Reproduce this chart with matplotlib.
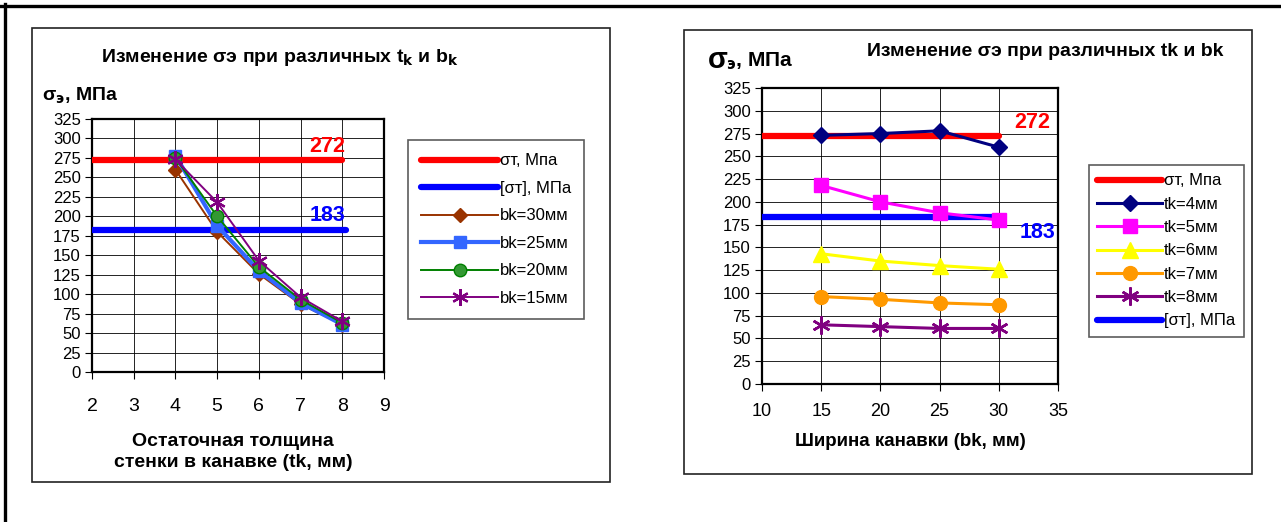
import numpy as np
import matplotlib.pyplot as plt
from matplotlib.patches import Rectangle
from matplotlib.lines import Line2D

plt.rcParams['font.family'] = ['Liberation Sans', 'DejaVu Sans']

# Данные
tk = [4, 5, 6, 7, 8]              # остаточная толщина стенки, мм
bk = [15, 20, 25, 30]             # ширина канавки, мм
sigma_t = 272                     # предел текучести, МПа
sigma_dop = 183                   # допускаемое напряжение, МПа

# σэ при разных tk (строки) и bk (столбцы 15, 20, 25, 30)
s_tk4 = [273, 275, 278, 260]
s_tk5 = [218, 200, 188, 180]
s_tk6 = [143, 135, 130, 126]
s_tk7 = [96, 93, 89, 87]
s_tk8 = [65, 63, 61, 61]

tk_labels = ['tk=4мм', 'tk=5мм', 'tk=6мм', 'tk=7мм', 'tk=8мм']
bk_labels = ['bk=15мм', 'bk=20мм', 'bk=25мм', 'bk=30мм']

table = np.array([s_tk4, s_tk5, s_tk6, s_tk7, s_tk8])

W, H = 1281, 522
fig = plt.figure(figsize=(W / 100, H / 100), dpi=100)


def fx(px):
    return px / W


def fy(py):
    return 1 - py / H


# рамка рисунка (верх и лево)
fig.add_artist(Line2D([0, 1], [fy(5.5), fy(5.5)], color='black', lw=2.4, transform=fig.transFigure))
fig.add_artist(Line2D([fx(5), fx(5)], [0, fy(4)], color='black', lw=2.4, transform=fig.transFigure))

# рамки диаграмм
for (x0, y0, x1, y1) in [(32, 28, 610, 482), (684, 30, 1252, 474)]:
    fig.add_artist(Rectangle((fx(x0), fy(y1)), fx(x1 - x0), (y1 - y0) / H, fill=False,
                             edgecolor='#222222', lw=1.2, transform=fig.transFigure))


def style_axes(ax, xlim, xticks, xtick_size, xpad):
    ax.set_xlim(*xlim)
    ax.set_ylim(0, 325)
    ax.set_xticks(xticks)
    ax.set_yticks(np.arange(0, 326, 25))
    ax.grid(True, color='black', lw=0.6)
    ax.set_axisbelow(True)
    for s in ax.spines.values():
        s.set_linewidth(1.6)
        s.set_color('black')
    ax.tick_params(axis='y', direction='out', length=5, width=0.8, labelsize=12, pad=3)
    ax.tick_params(axis='x', direction='out', length=5, width=0.8, labelsize=xtick_size, pad=xpad)


# ---------- левая диаграмма ----------
ax1 = fig.add_axes([fx(92), fy(372), fx(384 - 92), (372 - 119) / H])
style_axes(ax1, (2, 9), range(2, 10), 14, 14)

ax1.plot([2, 8], [sigma_t, sigma_t], color='#FF0000', lw=4.5, solid_capstyle='round', label='σт, Мпа', zorder=3)
ax1.plot([2, 8.1], [sigma_dop, sigma_dop], color='#0000FF', lw=4.5, solid_capstyle='round', label='[σт], МПа', zorder=3)

left_styles = {
    'bk=30мм': dict(color='#993300', marker='D', ms=7.5, lw=1.4, mfc='#993300'),
    'bk=25мм': dict(color='#3366FF', marker='s', ms=8, lw=3.0, mfc='#3366FF'),
    'bk=20мм': dict(color='#008000', marker='o', ms=9, lw=1.4, mfc='#339933'),
    'bk=15мм': dict(color='#800080', marker=(6, 2, 0), ms=12, lw=1.4, mew=1.6),
}
for lab in ['bk=30мм', 'bk=25мм', 'bk=20мм', 'bk=15мм']:
    j = bk_labels.index(lab)
    ax1.plot(tk, table[:, j], label=lab, zorder=4, **left_styles[lab])

ax1.text(7.65, 276, str(sigma_t), color='#FF0000', fontsize=15.5, fontweight='bold', ha='center', va='bottom')
ax1.text(7.65, 187, str(sigma_dop), color='#0000FF', fontsize=15.5, fontweight='bold', ha='center', va='bottom')

fig.text(fx(280), fy(57), 'Изменение σэ при различных t$_\\mathbf{k}$ и b$_\\mathbf{k}$',
         ha='center', va='center', fontsize=14, fontweight='bold')
fig.text(fx(42), fy(96), 'σ$_\\mathbf{э}$, МПа', ha='left', va='center', fontsize=14, fontweight='bold')
fig.text(fx(233), fy(452), 'Остаточная толщина\nстенки в канавке (tk, мм)', ha='center', va='center',
         fontsize=14, fontweight='bold', linespacing=1.3)

leg1 = ax1.legend(loc='upper left', bbox_to_anchor=(fx(408), fy(140)), bbox_transform=fig.transFigure,
                  frameon=True, fancybox=False, edgecolor='#333333', fontsize=12, handlelength=4.6,
                  handletextpad=0.1, labelspacing=0.75, borderpad=0.8, borderaxespad=0)
leg1.get_frame().set_linewidth(1.2)

# ---------- правая диаграмма ----------
ax2 = fig.add_axes([fx(762), fy(384), fx(1058 - 762), (384 - 88) / H])
style_axes(ax2, (10, 35), range(10, 36, 5), 13, 9)

ax2.plot([10, 30], [sigma_t, sigma_t], color='#FF0000', lw=4.5, solid_capstyle='round', label='σт, Мпа', zorder=3)

right_styles = [
    dict(color='#000080', marker='D', ms=8, lw=2.2),
    dict(color='#FF00FF', marker='s', ms=10, lw=2.2),
    dict(color='#FFFF00', marker='^', ms=11, lw=2.2),
    dict(color='#FF9900', marker='o', ms=10, lw=2.2),
    dict(color='#800080', marker=(6, 2, 0), ms=13, lw=2.2, mew=1.8),
]
for i, lab in enumerate(tk_labels):
    ax2.plot(bk, table[i], label=lab, zorder=4, **right_styles[i])

ax2.plot([10, 30], [sigma_dop, sigma_dop], color='#0000FF', lw=4.5, solid_capstyle='round', label='[σт], МПа', zorder=3)

ax2.text(32.8, 276, str(sigma_t), color='#FF0000', fontsize=15.5, fontweight='bold', ha='center', va='bottom')
ax2.text(33.3, 178, str(sigma_dop), color='#0000FF', fontsize=15.5, fontweight='bold', ha='center', va='top')

fig.text(fx(1045), fy(52), 'Изменение σэ при различных tk и bk', ha='center', va='center',
         fontsize=14, fontweight='bold')
fig.text(fx(708), fy(60), 'σ', ha='left', va='center', fontsize=21, fontweight='bold')
fig.text(fx(726), fy(61), '$_\\mathbf{э}$, МПа', ha='left', va='center', fontsize=15, fontweight='bold')
fig.text(fx(910), fy(441), 'Ширина канавки (bk, мм)', ha='center', va='center', fontsize=13.5, fontweight='bold')

leg2 = ax2.legend(loc='upper left', bbox_to_anchor=(fx(1089), fy(165)), bbox_transform=fig.transFigure,
                  frameon=True, fancybox=False, edgecolor='#333333', fontsize=12, handlelength=3.9,
                  handletextpad=0.1, labelspacing=0.5, borderpad=0.5, borderaxespad=0)
leg2.get_frame().set_linewidth(1.2)

fig.savefig('out.png', dpi=100)
